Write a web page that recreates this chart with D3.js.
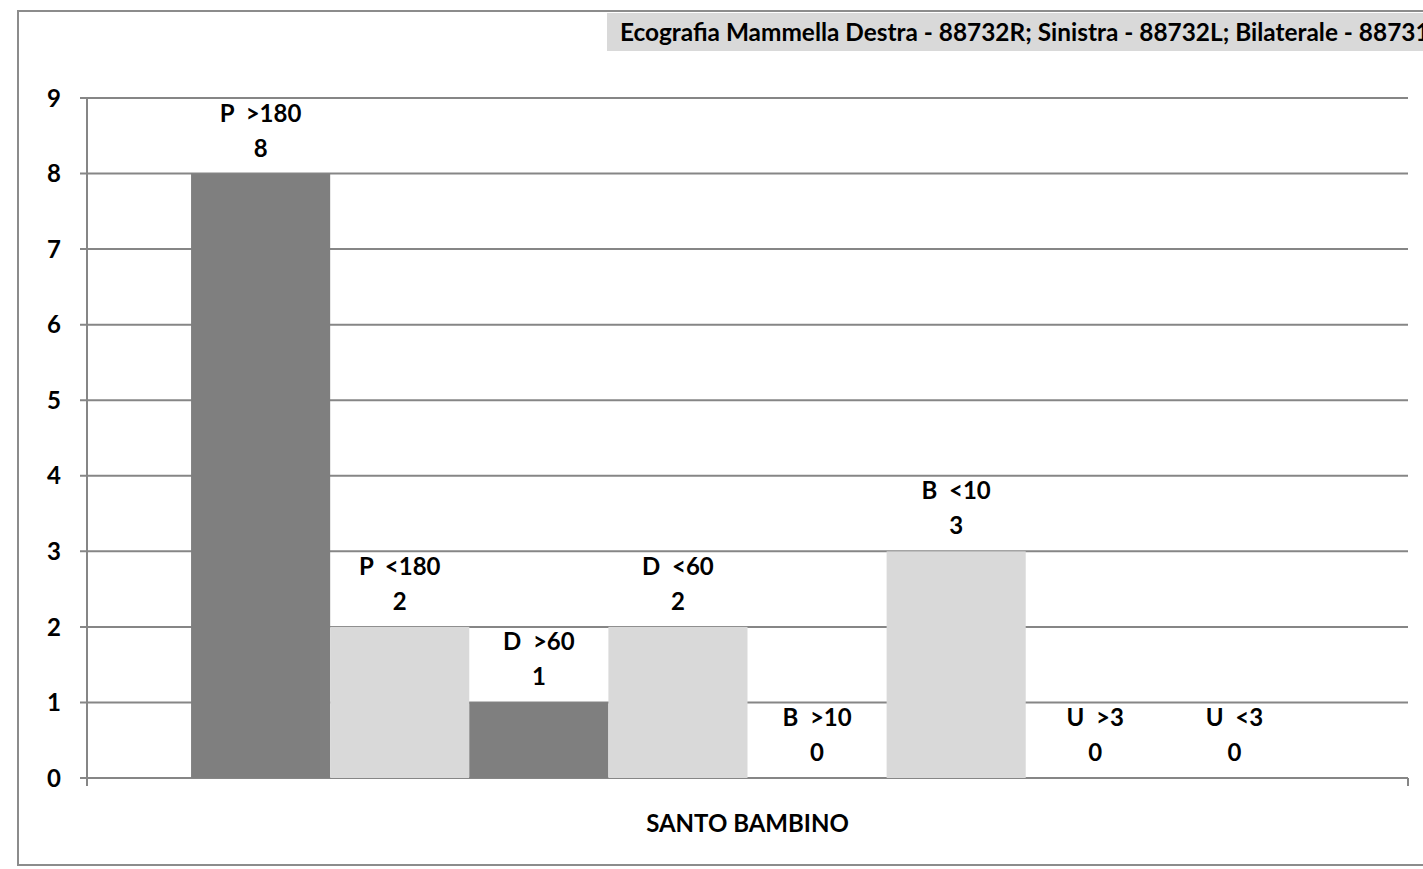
<!DOCTYPE html>
<html>
<head>
<meta charset="utf-8">
<script src="https://cdn.jsdelivr.net/npm/d3@7"></script>
<style>
  html, body { margin: 0; padding: 0; background: #fff; }
  svg { display: block; }
  text { font-family: Lato, "Open Sans", sans-serif; font-weight: 700; fill: #000; }
</style>
</head>
<body>
<svg id="chart" width="1423" height="869"></svg>
<script>
// Esami per classe di priorità / tempo di attesa
const categories = ["P  >180", "P  <180", "D  >60", "D  <60", "B  >10", "B  <10", "U  >3", "U  <3"];
const values = [8, 2, 1, 2, 0, 3, 0, 0];
const barColors = ["#7f7f7f", "#d9d9d9", "#7f7f7f", "#d9d9d9", "#7f7f7f", "#d9d9d9", "#7f7f7f", "#d9d9d9"];
const yTicks = [0, 1, 2, 3, 4, 5, 6, 7, 8, 9];
const groupLabel = "SANTO BAMBINO";
const titleText = "Ecografia Mammella Destra - 88732R; Sinistra - 88732L; Bilaterale - 88731";

const svg = d3.select("#chart");
const plot = { left: 87, right: 1408, top: 98, bottom: 778 };
const lineColor = "#868686";
const fontSize = 24;

// outer chart frame (right side runs past the page edge)
svg.append("rect")
  .attr("x", 18).attr("y", 11)
  .attr("width", 1440).attr("height", 854)
  .attr("fill", "none").attr("stroke", "#8c8c8c").attr("stroke-width", 2);

// title box
svg.append("rect")
  .attr("x", 607).attr("y", 13)
  .attr("width", 900).attr("height", 38)
  .attr("fill", "#d9d9d9");
svg.append("text")
  .attr("x", 620).attr("y", 41)
  .attr("font-size", 24.4)
  .text(titleText);

const y = d3.scaleLinear().domain([0, 9]).range([plot.bottom, plot.top]);

// bars occupy a centred band inside the category axis
const outer = d3.scaleBand().domain([groupLabel]).range([plot.left, plot.right]).paddingInner(0).paddingOuter(0.0935);
const x = d3.scaleBand().domain(categories)
  .range([outer(groupLabel), outer(groupLabel) + outer.bandwidth()])
  .padding(0);

// gridlines
svg.append("g")
  .selectAll("line")
  .data(yTicks)
  .join("line")
  .attr("x1", plot.left - 7).attr("x2", plot.right)
  .attr("y1", d => y(d)).attr("y2", d => y(d))
  .attr("stroke", lineColor).attr("stroke-width", 2);

// y axis line
svg.append("line")
  .attr("x1", plot.left).attr("x2", plot.left)
  .attr("y1", plot.top).attr("y2", plot.bottom + 8)
  .attr("stroke", lineColor).attr("stroke-width", 2);

// category axis end tick
svg.append("line")
  .attr("x1", plot.right).attr("x2", plot.right)
  .attr("y1", plot.bottom).attr("y2", plot.bottom + 8)
  .attr("stroke", lineColor).attr("stroke-width", 2);

// y tick labels
svg.append("g")
  .selectAll("text")
  .data(yTicks)
  .join("text")
  .attr("x", 61).attr("y", d => y(d))
  .attr("dy", "0.36em")
  .attr("text-anchor", "end")
  .attr("font-size", fontSize)
  .text(d => d);

// bars
svg.append("g")
  .selectAll("rect")
  .data(categories)
  .join("rect")
  .attr("x", d => x(d))
  .attr("width", x.bandwidth())
  .attr("y", (d, i) => y(values[i]))
  .attr("height", (d, i) => y(0) - y(values[i]))
  .attr("fill", (d, i) => barColors[i]);

// data labels: category name above value
const labels = svg.append("g")
  .selectAll("g")
  .data(categories)
  .join("g")
  .attr("transform", (d, i) => `translate(${x(d) + x.bandwidth() / 2},${y(values[i])})`);
labels.append("text")
  .attr("y", -52)
  .attr("text-anchor", "middle")
  .attr("font-size", fontSize)
  .style("white-space", "pre")
  .text(d => d);
labels.append("text")
  .attr("y", -17)
  .attr("text-anchor", "middle")
  .attr("font-size", fontSize)
  .text((d, i) => values[i]);

// category axis label
svg.append("text")
  .attr("x", (plot.left + plot.right) / 2).attr("y", 832)
  .attr("text-anchor", "middle")
  .attr("font-size", fontSize)
  .text(groupLabel);
</script>
</body>
</html>
